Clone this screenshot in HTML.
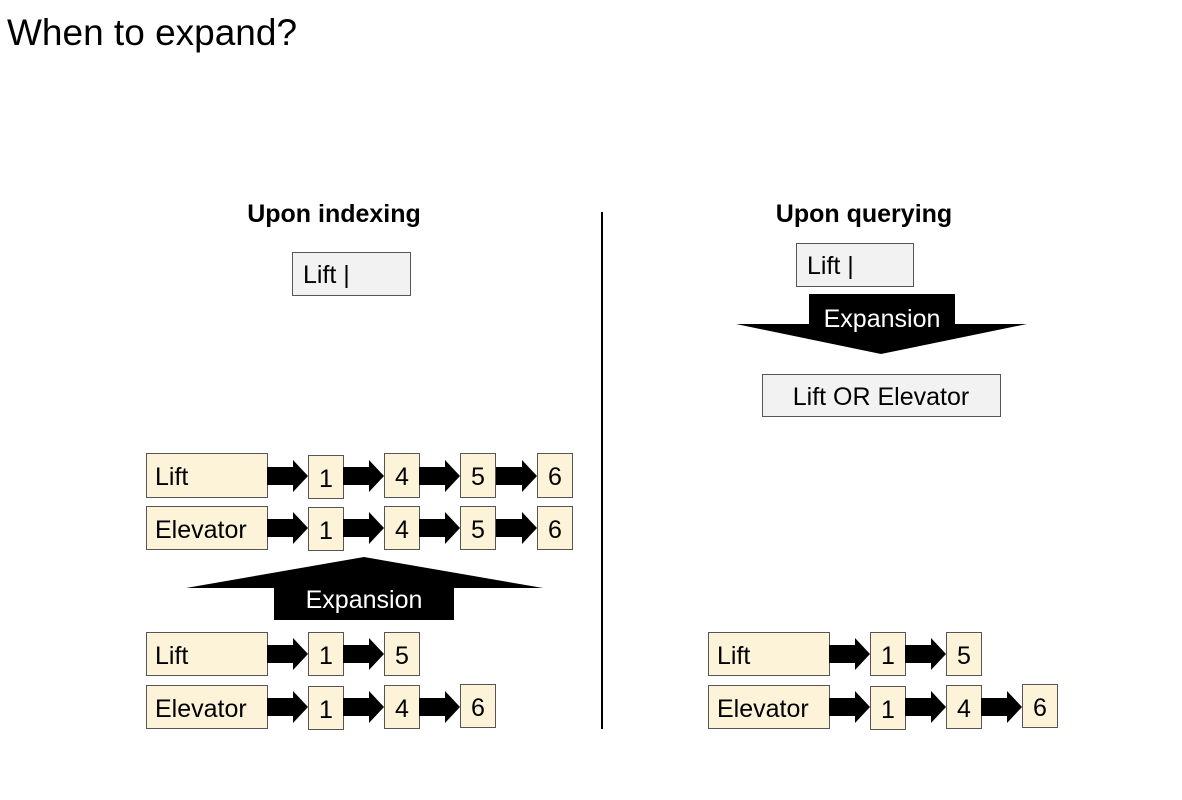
<!DOCTYPE html>
<html><head><meta charset="utf-8"><style>
html,body{margin:0;padding:0;background:#fff;}
svg{display:block;}
text{font-family:"Liberation Sans",Arial,sans-serif;}
</style></head><body>
<svg width="1182" height="800" viewBox="0 0 1182 800" xmlns="http://www.w3.org/2000/svg">
<defs>
<polygon id="a" points="0,-9 26,-9 26,-16 41,0 26,16 26,9 0,9" fill="#000"/>
</defs>
<text x="7" y="45" font-size="37" fill="#000">When to expand?</text>
<text x="334" y="222" font-size="25" font-weight="bold" text-anchor="middle">Upon indexing</text>
<text x="864" y="222" font-size="25" font-weight="bold" text-anchor="middle">Upon querying</text>
<line x1="602" y1="212" x2="602" y2="729" stroke="#000" stroke-width="2"/>

<g stroke="#555" stroke-width="1">
<rect x="292.5" y="252.5" width="118" height="43" fill="#f2f2f2"/>
<rect x="796.5" y="243.5" width="117" height="43" fill="#f2f2f2"/>
<rect x="762.5" y="374.5" width="238" height="42" fill="#f2f2f2"/>
</g>
<text x="303" y="283" font-size="25">Lift |</text>
<text x="807" y="274" font-size="25">Lift |</text>
<text x="881" y="405" font-size="25" text-anchor="middle">Lift OR Elevator</text>

<!-- down arrow -->
<polygon points="809,294 955,294 955,324 1027,324 881,354 736,324 809,324" fill="#000"/>
<text x="882" y="327" font-size="25" fill="#fff" text-anchor="middle">Expansion</text>

<!-- up arrow -->
<polygon points="364,557 543,588 454,588 454,620 274,620 274,588 186,588" fill="#000"/>
<text x="364" y="608" font-size="25" fill="#fff" text-anchor="middle">Expansion</text>

<g fill="#fdf3d8" stroke="#555" stroke-width="1">
<rect x="146.5" y="453.5" width="121" height="44"/>
<rect x="308.5" y="455.5" width="35" height="43"/>
<rect x="384.5" y="453.5" width="35" height="44"/>
<rect x="460.5" y="453.5" width="35" height="44"/>
<rect x="537.5" y="453.5" width="35" height="44"/>
<rect x="146.5" y="506.5" width="121" height="43"/>
<rect x="308.5" y="507.5" width="35" height="43"/>
<rect x="384.5" y="506.5" width="35" height="43"/>
<rect x="460.5" y="506.5" width="35" height="43"/>
<rect x="537.5" y="506.5" width="35" height="43"/>
<rect x="146.5" y="632.5" width="121" height="43"/>
<rect x="308.5" y="632.5" width="35" height="43"/>
<rect x="384.5" y="632.5" width="35" height="43"/>
<rect x="146.5" y="685.5" width="121" height="43"/>
<rect x="308.5" y="686.5" width="35" height="43"/>
<rect x="384.5" y="685.5" width="35" height="43"/>
<rect x="460.5" y="684.5" width="35" height="43"/>
<rect x="708.5" y="632.5" width="121" height="43"/>
<rect x="870.5" y="632.5" width="35" height="43"/>
<rect x="946.5" y="632.5" width="35" height="43"/>
<rect x="708.5" y="685.5" width="121" height="43"/>
<rect x="870.5" y="686.5" width="35" height="43"/>
<rect x="946.5" y="685.5" width="35" height="43"/>
<rect x="1022.5" y="684.5" width="35" height="43"/>
</g>

<use href="#a" x="267" y="476"/><use href="#a" x="343" y="476"/><use href="#a" x="419" y="476"/><use href="#a" x="496" y="476"/>
<use href="#a" x="267" y="528"/><use href="#a" x="343" y="528"/><use href="#a" x="419" y="528"/><use href="#a" x="496" y="528"/>
<use href="#a" x="267" y="654"/><use href="#a" x="343" y="654"/>
<use href="#a" x="267" y="707"/><use href="#a" x="343" y="707"/><use href="#a" x="419" y="707"/>
<use href="#a" x="829" y="654"/><use href="#a" x="905" y="654"/>
<use href="#a" x="829" y="707"/><use href="#a" x="905" y="707"/><use href="#a" x="981" y="707"/>

<g font-size="25" fill="#000">
<text x="155" y="485">Lift</text>
<text x="155" y="538">Elevator</text>
<text x="155" y="664">Lift</text>
<text x="155" y="717">Elevator</text>
<text x="717" y="664">Lift</text>
<text x="717" y="717">Elevator</text>
</g>
<g font-size="25" fill="#000" text-anchor="middle">
<text x="326" y="487">1</text><text x="402" y="485">4</text><text x="478" y="485">5</text><text x="555" y="485">6</text>
<text x="326" y="539">1</text><text x="402" y="538">4</text><text x="478" y="538">5</text><text x="555" y="538">6</text>
<text x="326" y="664">1</text><text x="402" y="664">5</text>
<text x="326" y="718">1</text><text x="402" y="717">4</text><text x="478" y="716">6</text>
<text x="888" y="664">1</text><text x="964" y="664">5</text>
<text x="888" y="718">1</text><text x="964" y="717">4</text><text x="1040" y="716">6</text>
</g>
</svg>
</body></html>
